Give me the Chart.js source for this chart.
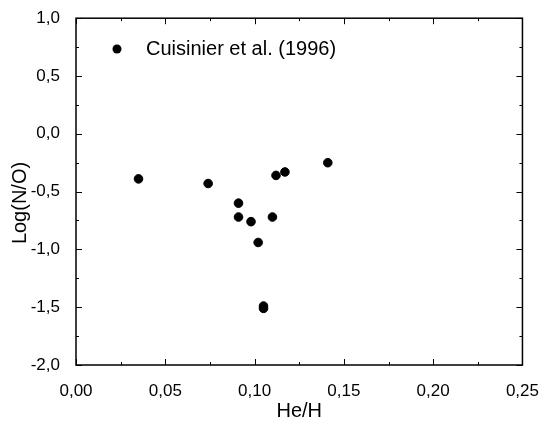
<!DOCTYPE html>
<html><head><meta charset="utf-8">
<script src="https://cdn.jsdelivr.net/npm/chart.js@4/dist/chart.umd.min.js"></script>
<style>html,body{margin:0;padding:0;background:#fff}</style>
</head><body>
<canvas id="c" width="547" height="425"></canvas>
<script>
const seriesName = 'Cuisinier et al. (1996)';
const heH   = [0.035, 0.074, 0.091, 0.091, 0.098, 0.102, 0.110, 0.112, 0.117, 0.141, 0.105, 0.105];
const logNO = [-0.39, -0.43, -0.60, -0.72, -0.76, -0.94, -0.72, -0.36, -0.33, -0.25, -1.49, -1.51];
const xTickValues = [0, 0.05, 0.10, 0.15, 0.20, 0.25];
const xTickLabels = ['0,00', '0,05', '0,10', '0,15', '0,20', '0,25'];
const yTickValues = [-2, -1.5, -1, -0.5, 0, 0.5, 1];
const yTickLabels = ['-2,0', '-1,5', '-1,0', '-0,5', '0,0', '0,5', '1,0'];
const xTitle = 'He/H';
const yTitle = 'Log(N/O)';

const FONT = "'Liberation Sans', Arial, sans-serif";

const frame = {
  id: 'frame',
  afterDraw(chart) {
    const ctx = chart.ctx, a = chart.chartArea;
    const xs = chart.scales.x, ys = chart.scales.y;
    ctx.save();
    ctx.strokeStyle = '#000';
    ctx.lineWidth = 1.5;
    ctx.strokeRect(a.left, a.top, a.right - a.left, a.bottom - a.top);
    ctx.lineWidth = 1;
    const tick = (x1, y1, x2, y2) => { ctx.beginPath(); ctx.moveTo(x1, y1); ctx.lineTo(x2, y2); ctx.stroke(); };
    for (let i = 0; i < xTickValues.length; i++) {
      const v = xTickValues[i];
      const px = Math.round(xs.getPixelForValue(v)) + 0.5;
      tick(px, a.bottom, px, a.bottom - 6);
      tick(px, a.top, px, a.top + 6);
      if (i < xTickValues.length - 1) {
        const m = Math.round(xs.getPixelForValue((v + xTickValues[i + 1]) / 2)) + 0.5;
        tick(m, a.bottom, m, a.bottom - 3);
        tick(m, a.top, m, a.top + 3);
      }
    }
    for (let i = 0; i < yTickValues.length; i++) {
      const v = yTickValues[i];
      const py = Math.round(ys.getPixelForValue(v)) + 0.5;
      tick(a.left, py, a.left + 6, py);
      tick(a.right, py, a.right - 6, py);
      if (i < yTickValues.length - 1) {
        const m = Math.round(ys.getPixelForValue((v + yTickValues[i + 1]) / 2)) + 0.5;
        tick(a.left, m, a.left + 3, m);
        tick(a.right, m, a.right - 3, m);
      }
    }
    // y title
    ctx.fillStyle = '#000';
    ctx.font = '20px ' + FONT;
    ctx.textAlign = 'center';
    ctx.textBaseline = 'middle';
    ctx.translate(20, 203);
    ctx.rotate(-Math.PI / 2);
    ctx.fillText(yTitle, 0, 0);
    ctx.setTransform(1, 0, 0, 1, 0, 0);
    // legend
    const ds = chart.data.datasets[0];
    ctx.beginPath();
    ctx.arc(117, 49, 4.5, 0, Math.PI * 2);
    ctx.fillStyle = '#000';
    ctx.fill();
    ctx.font = '20px ' + FONT;
    ctx.textAlign = 'left';
    ctx.textBaseline = 'middle';
    ctx.fillText(ds.label, 146, 49);
    ctx.restore();
  }
};

new Chart(document.getElementById('c'), {
  type: 'scatter',
  data: {
    datasets: [{
      label: seriesName,
      data: heH.map((x, i) => ({ x: x, y: logNO[i] })),
      backgroundColor: '#000',
      borderColor: '#000',
      pointRadius: 4.3,
      pointHoverRadius: 4.3,
      pointStyle: 'circle'
    }]
  },
  options: {
    responsive: false,
    animation: false,
    events: [],
    layout: { padding: { top: 17, right: 19, left: 0, bottom: 0 } },
    plugins: { legend: { display: false }, tooltip: { enabled: false } },
    scales: {
      x: {
        type: 'linear', min: 0, max: 0.25,
        afterBuildTicks: s => { s.ticks = xTickValues.map(v => ({ value: v })); },
        afterFit: s => { s.height = 60; },
        grid: { display: false },
        border: { display: false },
        ticks: {
          color: '#000', padding: 8, maxRotation: 0, autoSkip: false,
          font: { family: FONT, size: 17 },
          callback: (v, i) => xTickLabels[i]
        },
        title: { display: true, text: xTitle, color: '#000', font: { family: FONT, size: 20 }, padding: { top: 0, bottom: 2 } }
      },
      y: {
        type: 'linear', min: -2, max: 1,
        afterBuildTicks: s => { s.ticks = yTickValues.map(v => ({ value: v })); },
        afterFit: s => { s.width = 76; },
        grid: { display: false },
        border: { display: false },
        ticks: {
          color: '#000', padding: 8, autoSkip: false,
          font: { family: FONT, size: 17 },
          callback: (v, i) => yTickLabels[i]
        }
      }
    }
  },
  plugins: [frame]
});
</script>
</body></html>
